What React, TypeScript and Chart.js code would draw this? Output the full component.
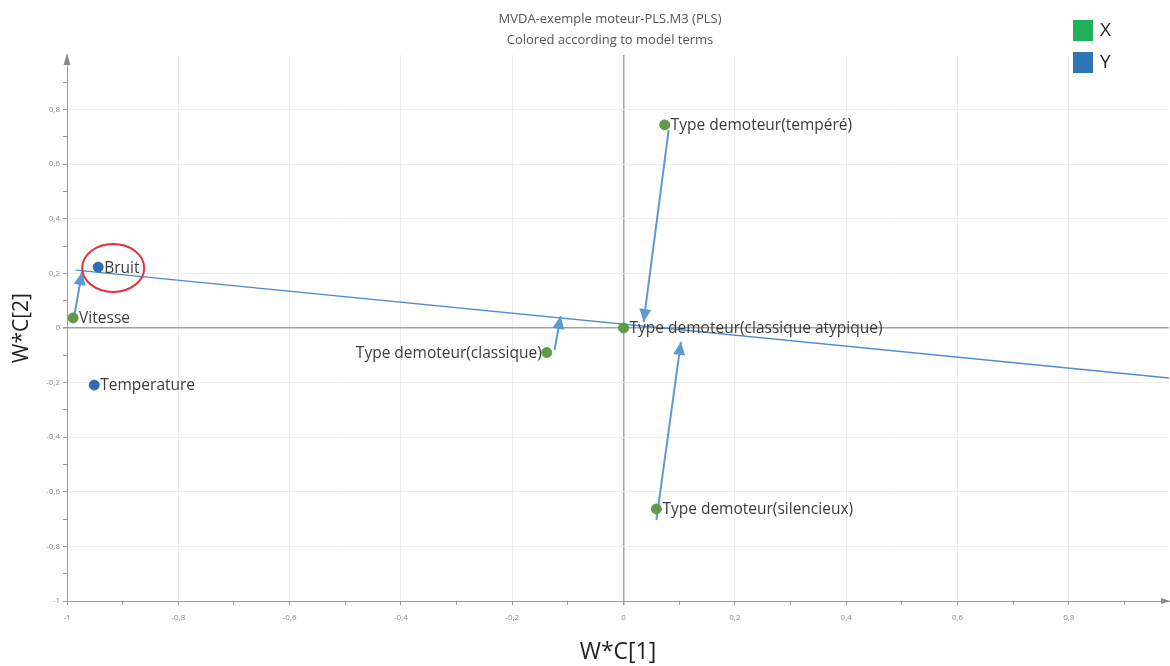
import React, { useEffect, useRef } from "react";
import { Chart, registerables } from "chart.js";

Chart.register(...registerables);

const TITLE_LINES = ["MVDA-exemple moteur-PLS.M3 (PLS)", "Colored according to model terms"];
const X_AXIS_TITLE = "W*C[1]";
const Y_AXIS_TITLE = "W*C[2]";
const LEGEND_LABELS = ["X", "Y"];

// X terms (green)
const X_TERMS = [
  "Vitesse",
  "Type demoteur(classique)",
  "Type demoteur(classique atypique)",
  "Type demoteur(tempéré)",
  "Type demoteur(silencieux)",
];
const X_WC1 = [-0.989, -0.138, 0.0, 0.074, 0.059];
const X_WC2 = [0.037, -0.09, 0.0, 0.744, -0.663];
const X_LABEL_SIDE = ["right", "left", "right", "right", "right"];

// Y terms (blue)
const Y_TERMS = ["Bruit", "Temperature"];
const Y_WC1 = [-0.944, -0.951];
const Y_WC2 = [0.223, -0.209];
const Y_LABEL_SIDE = ["right", "right"];

// Axis ticks
const X_TICKS = [-1, -0.8, -0.6, -0.4, -0.2, 0, 0.2, 0.4, 0.6, 0.8];
const X_TICK_LABELS = ["-1", "-0,8", "-0,6", "-0,4", "-0,2", "0", "0,2", "0,4", "0,6", "0,8"];
const Y_TICKS = [-1, -0.8, -0.6, -0.4, -0.2, 0, 0.2, 0.4, 0.6, 0.8];
const Y_TICK_LABELS = ["-1", "-0,8", "-0,6", "-0,4", "-0,2", "0", "0,2", "0,4", "0,6", "0,8"];
const X_MIN = -1;
const X_MAX = 0.98;
const Y_MIN = -1;
const Y_MAX = 1.0;

// Arrows (from -> to)
const ARROW_FROM_X = [-0.987, -0.124, 0.081, 0.059];
const ARROW_FROM_Y = [0.044, -0.08, 0.725, -0.703];
const ARROW_TO_X = [-0.973, -0.113, 0.036, 0.103];
const ARROW_TO_Y = [0.205, 0.044, 0.022, -0.051];

// Long line
const LINE_X = [-0.984, 0.98];
const LINE_Y = [0.212, -0.183];

// Highlight circle around "Bruit"
const HIGHLIGHT_X = -0.917;
const HIGHLIGHT_Y = 0.22;

const GREEN_POINT = "#5f9a48";
const BLUE_POINT = "#2f6db3";
const GREEN_LEGEND = "#1fb25a";
const BLUE_LEGEND = "#2e75b6";
const ARROW_COLOR = "#5b9bd5";
const LINE_COLOR = "#4a8cce";
const LABEL_FONT = '15.5px "Open Sans", "Noto Sans", sans-serif';

function withMinor(major: number[], max: number) {
  const out: number[] = [];
  major.forEach((v) => {
    out.push(v);
    const m = Math.round((v + 0.1) * 10) / 10;
    if (m <= max) out.push(m);
  });
  return out;
}

function labelFor(values: number[], labels: string[], v: number) {
  for (let i = 0; i < values.length; i++) {
    if (Math.abs(values[i] - v) < 1e-6) return labels[i];
  }
  return "";
}

function isMajor(values: number[], v: number) {
  return values.some((m) => Math.abs(m - v) < 1e-6);
}

export default function App() {
  const ref = useRef<HTMLCanvasElement | null>(null);

  useEffect(() => {
    if (!ref.current) return;

    const arrowDatasets = ARROW_FROM_X.map((_, i) => ({
      type: "scatter" as const,
      label: "arrow" + i,
      data: [
        { x: ARROW_FROM_X[i], y: ARROW_FROM_Y[i] },
        { x: ARROW_TO_X[i], y: ARROW_TO_Y[i] },
      ],
      showLine: true,
      borderColor: ARROW_COLOR,
      borderWidth: 2,
      pointRadius: 0,
      order: 2,
    }));

    const overlay = {
      id: "overlay",
      afterDatasetsDraw(chart: any) {
        const { ctx, chartArea, scales } = chart;
        const xs = scales.x;
        const ys = scales.y;
        ctx.save();

        // arrow heads
        ARROW_FROM_X.forEach((_, i) => {
          const x0 = xs.getPixelForValue(ARROW_FROM_X[i]);
          const y0 = ys.getPixelForValue(ARROW_FROM_Y[i]);
          const x1 = xs.getPixelForValue(ARROW_TO_X[i]);
          const y1 = ys.getPixelForValue(ARROW_TO_Y[i]);
          const a = Math.atan2(y1 - y0, x1 - x0);
          const len = 13;
          const hw = 6;
          ctx.beginPath();
          ctx.moveTo(x1, y1);
          ctx.lineTo(x1 - len * Math.cos(a) + hw * Math.sin(a), y1 - len * Math.sin(a) - hw * Math.cos(a));
          ctx.lineTo(x1 - len * Math.cos(a) - hw * Math.sin(a), y1 - len * Math.sin(a) + hw * Math.cos(a));
          ctx.closePath();
          ctx.fillStyle = ARROW_COLOR;
          ctx.fill();
        });

        // point labels
        ctx.font = LABEL_FONT;
        ctx.fillStyle = "#3c3c3c";
        ctx.textBaseline = "middle";
        const drawLabels = (names: string[], xv: number[], yv: number[], side: string[]) => {
          names.forEach((n, i) => {
            const px = xs.getPixelForValue(xv[i]);
            const py = ys.getPixelForValue(yv[i]);
            if (side[i] === "left") {
              ctx.textAlign = "right";
              ctx.fillText(n, px - 5, py + 1);
            } else {
              ctx.textAlign = "left";
              ctx.fillText(n, px + 6, py + 1);
            }
          });
        };
        drawLabels(X_TERMS, X_WC1, X_WC2, X_LABEL_SIDE);
        drawLabels(Y_TERMS, Y_WC1, Y_WC2, Y_LABEL_SIDE);

        // highlight ellipse
        ctx.beginPath();
        ctx.ellipse(xs.getPixelForValue(HIGHLIGHT_X), ys.getPixelForValue(HIGHLIGHT_Y), 31, 24, 0, 0, Math.PI * 2);
        ctx.strokeStyle = "#e2303f";
        ctx.lineWidth = 2;
        ctx.stroke();

        // axis arrow heads
        ctx.fillStyle = "#8a8a8a";
        ctx.beginPath();
        ctx.moveTo(chartArea.left, chartArea.top - 2);
        ctx.lineTo(chartArea.left - 3.5, chartArea.top + 10);
        ctx.lineTo(chartArea.left + 3.5, chartArea.top + 10);
        ctx.closePath();
        ctx.fill();
        ctx.beginPath();
        ctx.moveTo(chartArea.right + 1, chartArea.bottom);
        ctx.lineTo(chartArea.right - 8, chartArea.bottom - 3);
        ctx.lineTo(chartArea.right - 8, chartArea.bottom + 3);
        ctx.closePath();
        ctx.fill();

        // title
        ctx.font = '13px "Open Sans", "Noto Sans", sans-serif';
        ctx.fillStyle = "#555555";
        ctx.textAlign = "center";
        ctx.textBaseline = "middle";
        const tx = 610;
        ctx.fillText(TITLE_LINES[0], tx, 19);
        ctx.fillText(TITLE_LINES[1], tx, 40);

        // legend
        const colors = [GREEN_LEGEND, BLUE_LEGEND];
        LEGEND_LABELS.forEach((lab, i) => {
          const top = 20 + i * 32;
          ctx.fillStyle = colors[i];
          ctx.fillRect(1073, top, 20, 21);
          ctx.fillStyle = "#222222";
          ctx.font = '19px "Open Sans", "Noto Sans", sans-serif';
          ctx.textAlign = "left";
          ctx.fillText(lab, 1100, top + 11);
        });

        ctx.restore();
      },
    };

    const xAll = withMinor(X_TICKS, X_MAX);
    const yAll = withMinor(Y_TICKS, Y_MAX);

    const gridColor = (major: number[]) => (c: any) => {
      const v = c.tick ? c.tick.value : NaN;
      if (Math.abs(v) < 1e-6) return "#a3a3a3";
      if (isMajor(major, v)) return "#ededed";
      return "rgba(0,0,0,0)";
    };
    const gridWidth = (c: any) => (c.tick && Math.abs(c.tick.value) < 1e-6 ? 1.5 : 1);

    const chart = new Chart(ref.current, {
      type: "scatter",
      data: {
        datasets: [
          {
            label: "X",
            data: X_WC1.map((x, i) => ({ x, y: X_WC2[i] })),
            backgroundColor: GREEN_POINT,
            borderColor: GREEN_POINT,
            pointRadius: 5,
            order: 0,
          },
          {
            label: "Y",
            data: Y_WC1.map((x, i) => ({ x, y: Y_WC2[i] })),
            backgroundColor: BLUE_POINT,
            borderColor: BLUE_POINT,
            pointRadius: 5,
            order: 0,
          },
          {
            label: "line",
            data: LINE_X.map((x, i) => ({ x, y: LINE_Y[i] })),
            showLine: true,
            borderColor: LINE_COLOR,
            borderWidth: 1.5,
            pointRadius: 0,
            order: 3,
          },
          ...arrowDatasets,
        ],
      } as any,
      options: {
        animation: false,
        responsive: false,
        maintainAspectRatio: false,
        layout: { autoPadding: false, padding: { top: 55, right: 1, left: 0, bottom: 0 } },
        plugins: { legend: { display: false }, tooltip: { enabled: false }, title: { display: false } },
        scales: {
          x: {
            type: "linear",
            min: X_MIN,
            max: X_MAX,
            afterBuildTicks: (s: any) => {
              s.ticks = xAll.map((v) => ({ value: v }));
            },
            afterFit: (s: any) => {
              s.height = 65;
              s.paddingRight = 0;
              s.paddingLeft = 0;
            },
            ticks: {
              autoSkip: false,
              maxRotation: 0,
              padding: 8,
              color: "#8a8a8a",
              font: { size: 8, family: '"Open Sans", sans-serif' },
              callback: (v: any) => labelFor(X_TICKS, X_TICK_LABELS, Number(v)),
            },
            grid: {
              color: gridColor(X_TICKS),
              lineWidth: gridWidth,
              tickColor: "#9a9a9a",
              tickLength: 4,
            },
            border: { display: true, color: "#9a9a9a", width: 1 },
            title: {
              display: true,
              text: X_AXIS_TITLE,
              color: "#222222",
              font: { size: 23, family: '"Open Sans", sans-serif' },
              padding: { top: 0, bottom: 0 },
            },
          },
          y: {
            type: "linear",
            min: Y_MIN,
            max: Y_MAX,
            afterBuildTicks: (s: any) => {
              s.ticks = yAll.map((v) => ({ value: v }));
            },
            afterFit: (s: any) => {
              s.width = 67;
            },
            ticks: {
              autoSkip: false,
              padding: 3,
              color: "#8a8a8a",
              font: { size: 8, family: '"Open Sans", sans-serif' },
              callback: (v: any) => labelFor(Y_TICKS, Y_TICK_LABELS, Number(v)),
            },
            grid: {
              color: gridColor(Y_TICKS),
              lineWidth: gridWidth,
              tickColor: "#9a9a9a",
              tickLength: 4,
            },
            border: { display: true, color: "#9a9a9a", width: 1 },
            title: {
              display: true,
              text: Y_AXIS_TITLE,
              color: "#222222",
              font: { size: 21, family: '"Open Sans", sans-serif' },
              padding: { top: 9, bottom: 0 },
            },
          },
        },
      } as any,
      plugins: [overlay],
    });

    return () => chart.destroy();
  }, []);

  return (
    <div style={{ position: "fixed", left: 0, top: 0, width: 1170, height: 666, background: "#ffffff" }}>
      <canvas ref={ref} width={1170} height={666} style={{ width: 1170, height: 666, display: "block" }} />
    </div>
  );
}
